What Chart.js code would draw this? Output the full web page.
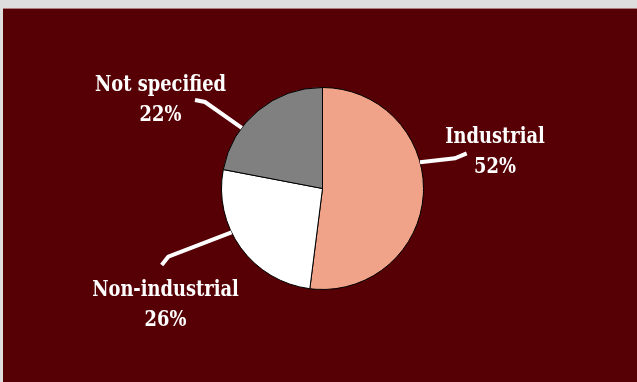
<!DOCTYPE html>
<html>
<head>
<meta charset="utf-8">
<script src="https://cdn.jsdelivr.net/npm/chart.js@4/dist/chart.umd.min.js"></script>
<style>
  html, body { margin: 0; padding: 0; background: #dedede; overflow: hidden; }
  #wrap {
    position: absolute; left: 3px; top: 8px; width: 634px; height: 374px;
    background: #560006; border-top: 1px solid #b08080; box-sizing: border-box;
  }
</style>
</head>
<body>
<div id="wrap"><canvas id="pie" width="634" height="373"></canvas></div>
<script>
const categories = ["Industrial", "Non-industrial", "Not specified"];
const shares = [52, 26, 22];
const sliceColors = ["#f0a389", "#ffffff", "#808080"];

// callout leader lines and label baselines, in pixels from the pie centre
const callouts = [
  { at: 0.40, elbow: [132.5, -30.2], end: [144.2, -35.2], text: [172.5, -45.5] },
  { at: 0.61, elbow: [-154.2, 68.2], end: [-160.8, 76.5], text: [-157, 107] },
  { at: 0.33, elbow: [-117.5, -86.5], end: [-127.5, -88.5], text: [-162, -98] }
];

const calloutPlugin = {
  id: 'callouts',
  afterDatasetsDraw(chart) {
    const ctx = chart.ctx;
    const arcs = chart.getDatasetMeta(0).data;
    ctx.save();
    ctx.font = "bold 23px 'DejaVu Serif Condensed', 'DejaVu Serif'";
    // squeeze the lettering so "Not specified" spans about 131px
    const sx = 131 / ctx.measureText('Not specified').width;
    arcs.forEach((arc, i) => {
      const c = callouts[i];
      const a = arc.startAngle + c.at * (arc.endAngle - arc.startAngle);
      const r = arc.outerRadius;
      ctx.strokeStyle = '#ffffff';
      ctx.lineWidth = 4;
      ctx.beginPath();
      ctx.moveTo(arc.x + Math.cos(a) * r, arc.y + Math.sin(a) * r);
      ctx.lineTo(arc.x + c.elbow[0], arc.y + c.elbow[1]);
      ctx.lineTo(arc.x + c.end[0], arc.y + c.end[1]);
      ctx.stroke();

      ctx.save();
      ctx.translate(arc.x + c.text[0], arc.y + c.text[1]);
      ctx.scale(sx, 1);
      ctx.fillStyle = '#ffffff';
      ctx.textAlign = 'center';
      ctx.textBaseline = 'alphabetic';
      ctx.fillText(categories[i], 0, 0);
      ctx.fillText(shares[i] + '%', 0, 30);
      ctx.restore();
    });
    ctx.restore();
  }
};

new Chart(document.getElementById('pie'), {
  type: 'pie',
  data: {
    labels: categories,
    datasets: [{
      data: shares,
      backgroundColor: sliceColors,
      borderColor: '#000000',
      borderWidth: 1,
      radius: 101
    }]
  },
  options: {
    responsive: false,
    animation: false,
    layout: { padding: { left: 5, right: 0, top: 0, bottom: 14 } },
    plugins: { legend: { display: false }, tooltip: { enabled: false } }
  },
  plugins: [calloutPlugin]
});
</script>
</body>
</html>
